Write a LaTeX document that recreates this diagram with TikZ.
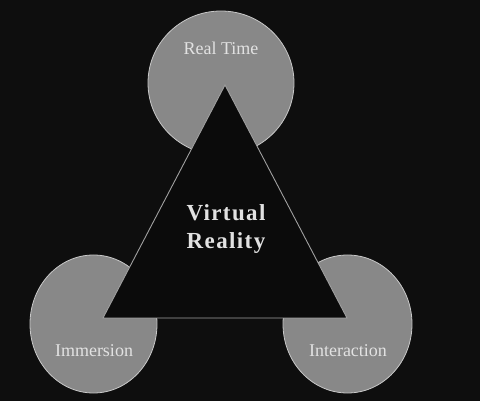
\documentclass[tikz,border=0pt]{standalone}
\usepackage{fontspec}
\setmainfont{Liberation Serif}
\definecolor{bg}{HTML}{0E0E0E}
\definecolor{disc}{HTML}{888888}
\definecolor{discedge}{HTML}{C8C8C8}
\definecolor{tri}{HTML}{0B0B0B}
\definecolor{triedge}{HTML}{A0A0A0}
\definecolor{txt}{HTML}{E2E2E2}
\begin{document}
\begin{tikzpicture}[x=1pt,y=-1pt,
  discshape/.style={fill=disc,draw=discedge,line width=0.8pt},
  lbl/.style={text=txt,font=\fontsize{18}{20}\selectfont,inner sep=0pt},
  centerlbl/.style={text=txt,font=\bfseries\fontsize{23}{28}\selectfont,align=center,inner sep=0pt}]
\useasboundingbox (0,0) rectangle (480,401);
\fill[bg] (0,0) rectangle (480,401);
\draw[discshape] (221,83) ellipse [x radius=73, y radius=72];
\draw[discshape] (93.5,324) ellipse [x radius=63.5, y radius=69];
\draw[discshape] (347.5,324) ellipse [x radius=64.5, y radius=69];
\coordinate (apex) at (225,85);
\coordinate (bl) at (103,318);
\coordinate (br) at (347,318);
\draw[fill=tri,draw=triedge,line width=0.9pt] (apex) -- (bl) -- (br) -- cycle;
\node[lbl] (rt) at (221,48) {Real Time};
\node[lbl] (im) at (94,351) {Immersion};
\node[lbl] (ia) at (348,351) {Interaction};
\node[centerlbl] (vr) at (226,229) {\addfontfeature{LetterSpace=6}Virtual\\\addfontfeature{LetterSpace=6}Reality};
\end{tikzpicture}
\end{document}
